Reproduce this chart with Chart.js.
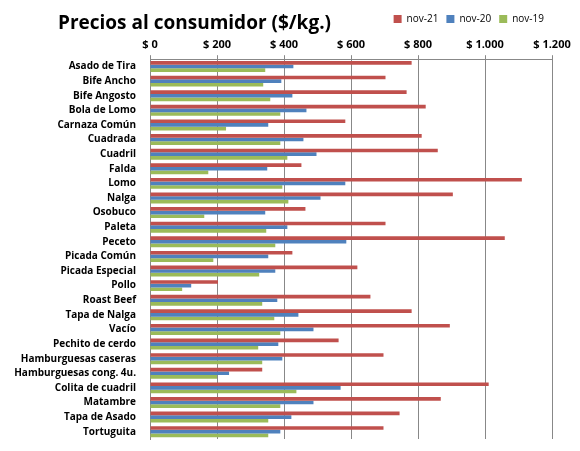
<!DOCTYPE html>
<html lang="es">
<head>
<meta charset="UTF-8">
<title>Precios al consumidor</title>
<script src="https://cdn.jsdelivr.net/npm/chart.js"></script>
<style>
  body { margin: 0; background: #fff; font-family: "Open Sans", sans-serif; }
  #wrap { position: relative; width: 580px; height: 451px; }
  #title { position: absolute; left: 58px; top: 9px; font-size: 19px; font-weight: bold; color: #000; }
</style>
</head>
<body>
<div id="wrap">
  <div id="title">Precios al consumidor ($/kg.)</div>
  <canvas id="chart" width="580" height="451"></canvas>
</div>
<script>
const cortes = ["Asado de Tira","Bife Ancho","Bife Angosto","Bola de Lomo","Carnaza Común","Cuadrada","Cuadril","Falda","Lomo","Nalga","Osobuco","Paleta","Peceto","Picada Común","Picada Especial","Pollo","Roast Beef","Tapa de Nalga","Vacío","Pechito de cerdo","Hamburguesas caseras","Hamburguesas cong. 4u.","Colita de cuadril","Matambre","Tapa de Asado","Tortuguita"];
const nov21 = [781,703,766,823,583,811,859,452,1110,904,464,703,1059,425,619,203,658,781,895,563,697,335,1011,868,745,697];
const nov20 = [428,392,425,467,353,458,497,350,583,509,344,410,586,353,374,123,380,443,488,383,395,236,569,488,422,389];
const nov19 = [344,338,359,389,227,389,410,174,395,413,162,347,374,189,326,96,335,371,389,323,335,200,437,389,353,353];
const ticks = [0,200,400,600,800,1000,1200];

const fmt = v => "$ " + v.toLocaleString("de-DE");

new Chart(document.getElementById("chart"), {
  type: "bar",
  data: {
    labels: cortes,
    datasets: [
      { label: "nov-21", data: nov21, backgroundColor: "#C0504D" },
      { label: "nov-20", data: nov20, backgroundColor: "#4F81BD" },
      { label: "nov-19", data: nov19, backgroundColor: "#9BBB59" }
    ]
  },
  options: {
    indexAxis: "y",
    responsive: false,
    animation: false,
    layout: { padding: { left: 0, right: 28, top: 6, bottom: 7 } },
    datasets: { bar: { categoryPercentage: 0.75, barPercentage: 1 } },
    plugins: {
      legend: {
        align: "end",
        labels: { boxWidth: 8, boxHeight: 8, font: { size: 10, family: "Open Sans" }, color: "#000", padding: 8 }
      },
      tooltip: { enabled: false }
    },
    scales: {
      x: {
        position: "top",
        min: 0, max: 1200,
        afterBuildTicks: s => { s.ticks = ticks.map(v => ({ value: v })); },
        ticks: { callback: v => fmt(v), font: { size: 11, weight: "bold", family: "Open Sans" }, color: "#000", padding: 4 },
        grid: { color: "#888", drawTicks: true, tickLength: 4 },
        border: { color: "#888" }
      },
      y: {
        afterFit: s => { s.width = 150; },
        ticks: { autoSkip: false, font: { size: 10, weight: "bold", family: "Open Sans" }, color: "#000", padding: 6 },
        grid: { display: false },
        border: { color: "#888" }
      }
    }
  }
});
</script>
</body>
</html>
